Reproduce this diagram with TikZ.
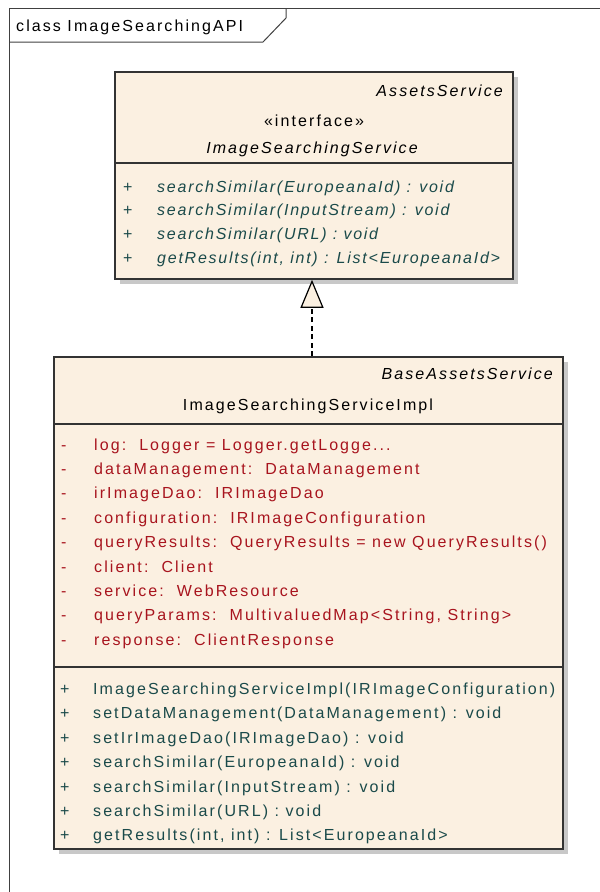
\documentclass[tikz,border=0pt]{standalone}
\usepackage{fontspec}
\setmainfont{Liberation Sans}[LetterSpace=13]
\usetikzlibrary{arrows.meta,shadows}
\definecolor{umlfill}{HTML}{FBF0E1}
\definecolor{umlborder}{HTML}{333333}
\definecolor{umlred}{HTML}{A8141E}
\definecolor{umlteal}{HTML}{1A4A4A}
\definecolor{umlshadow}{HTML}{C8C8C8}
\newcommand\mydots{...}
\newcommand\dsp{\ \ }
\tikzset{
  classbox/.style={draw=umlborder, line width=1.6pt, fill=umlfill, inner sep=0pt,
    drop shadow={shadow xshift=5pt, shadow yshift=-5pt, fill=umlshadow, opacity=1}},
  sepline/.style={draw=umlborder, line width=1.4pt},
  txt/.style={inner sep=0pt, font=\fontsize{16}{19}\selectfont},
  attr/.style={txt, text=umlred, anchor=base west},
  oper/.style={txt, text=umlteal, anchor=base west},
  ioper/.style={txt, text=umlteal, anchor=base west, font=\fontsize{16}{19}\selectfont\itshape\addfontfeatures{LetterSpace=11}},
  framel/.style={draw=black!75, line width=1pt},
  realize/.style={draw=black, line width=1.2pt, dash pattern=on 5pt off 3.5pt,
    -{Triangle[open, length=28pt, width=23pt, fill=umlfill, line width=1.2pt]}}
}
\begin{document}
\begin{tikzpicture}[x=1pt,y=-1pt]
\useasboundingbox (0,0) rectangle (600,892);
% frame
\draw[framel] (600,8) -- (9,8) -- (9,892);
\draw[framel] (9,42) -- (263,42) -- (286,18) -- (286,8);
\node[txt, anchor=base west] (frametitle) at (16,31) {class ImageSearchingAPI};

% interface box
\node[classbox, minimum width=398pt, minimum height=207pt] (iface) at (314,175.5) {};
\path (0,163) coordinate (is1);
\draw[sepline] (iface.west |- is1) -- (iface.east |- is1);
\node[txt, anchor=base east, font=\fontsize{16}{19}\selectfont\itshape] (ifacesuper) at (503,96) {AssetsService};
\node[txt, anchor=base] (ifacestereo) at (314,126) {«interface»};
\node[txt, anchor=base, font=\fontsize{16}{19}\selectfont\itshape] (ifacename) at (312,153) {ImageSearchingService};
\foreach \t [count=\i] in {{searchSimilar(EuropeanaId) : void},{searchSimilar(InputStream) : void},{searchSimilar(URL) : void},{getResults(int, int) : List<EuropeanaId>}} {
  \node[oper] (ivis\i) at (123,192+23.8*\i-23.8) {+};
  \node[ioper] (iop\i) at (157,192+23.8*\i-23.8) {\t};
}

% implementation box
\node[classbox, minimum width=509pt, minimum height=492pt] (impl) at (308.5,603) {};
\path (0,424) coordinate (ms1) (0,667) coordinate (ms2);
\draw[sepline] (impl.west |- ms1) -- (impl.east |- ms1);
\draw[sepline] (impl.west |- ms2) -- (impl.east |- ms2);
\node[txt, anchor=base east, font=\fontsize{16}{19}\selectfont\itshape] (implsuper) at (553,379) {BaseAssetsService};
\node[txt, anchor=base] (implname) at (308,410) {ImageSearchingServiceImpl};
\foreach \t [count=\i] in {{log:\dsp Logger = Logger.getLogge\mydots},{dataManagement:\dsp DataManagement},{irImageDao:\dsp IRImageDao},{configuration:\dsp IRImageConfiguration},{queryResults:\dsp QueryResults = new QueryResults()},{client:\dsp Client},{service:\dsp WebResource},{queryParams:\dsp MultivaluedMap<String, String>},{response:\dsp ClientResponse}} {
  \node[attr] (avis\i) at (61,450+24.4*\i-24.4) {-};
  \node[attr] (att\i) at (94,450+24.4*\i-24.4) {\t};
}
\foreach \t [count=\i] in {{ImageSearchingServiceImpl(IRImageConfiguration)},{setDataManagement(DataManagement) : void},{setIrImageDao(IRImageDao) : void},{searchSimilar(EuropeanaId) : void},{searchSimilar(InputStream) : void},{searchSimilar(URL) : void},{getResults(int, int) : List<EuropeanaId>}} {
  \node[oper] (ovis\i) at (60,694.5+24.4*\i-24.4) {+};
  \node[oper] (op\i) at (93,694.5+24.4*\i-24.4) {\t};
}

% realization
\path (312,0) coordinate (ax);
\draw[realize] (impl.north -| ax) -- (iface.south -| ax);
\end{tikzpicture}
\end{document}
